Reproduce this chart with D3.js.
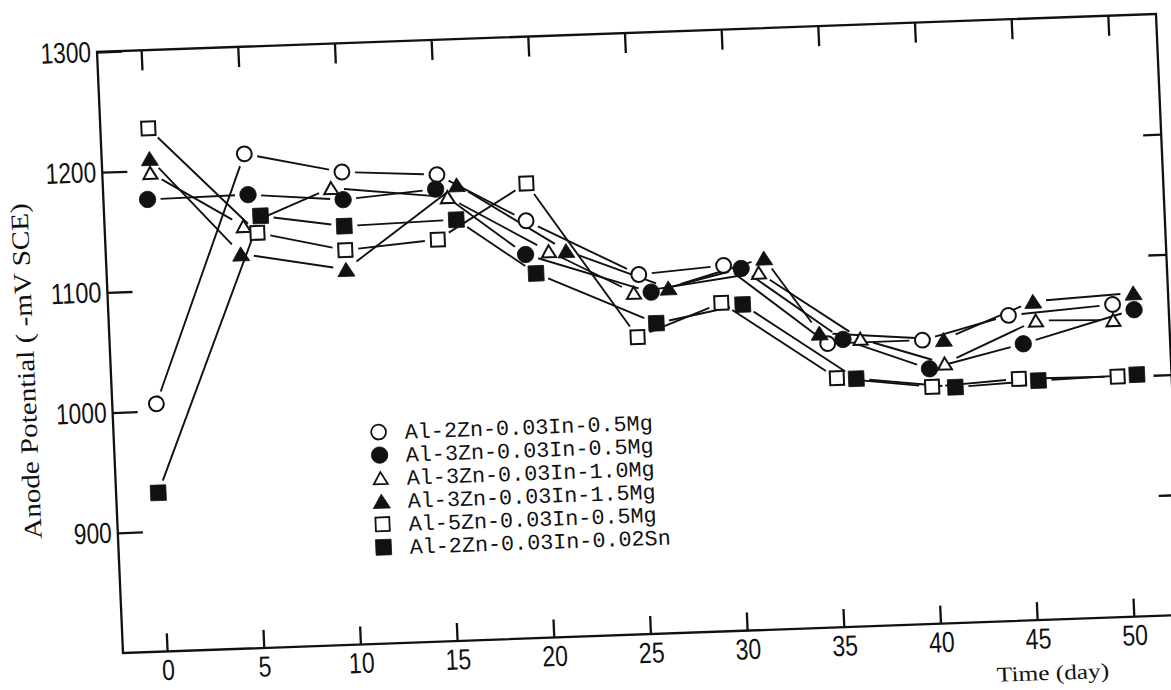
<!DOCTYPE html>
<html>
<head>
<meta charset="utf-8">
<script src="https://cdn.jsdelivr.net/npm/d3@7"></script>
<style>
  html, body { margin: 0; padding: 0; background: #ffffff; }
  svg { display: block; }
</style>
</head>
<body>
<svg id="chart" width="1171" height="690"></svg>
<script>
// Anode potential (-mV vs SCE) of Al sacrificial anode alloys over immersion time.
const seriesNames = [
  "Al-2Zn-0.03In-0.5Mg",
  "Al-3Zn-0.03In-0.5Mg",
  "Al-3Zn-0.03In-1.0Mg",
  "Al-3Zn-0.03In-1.5Mg",
  "Al-5Zn-0.03In-0.5Mg",
  "Al-2Zn-0.03In-0.02Sn"
];

// Time of each reading (day) and measured potential (-mV SCE) per alloy
const days2Zn05Mg = [0.0, 5.1, 10.1, 15.0, 19.5, 25.2, 29.6, 34.8, 39.7, 44.2, 49.6];
const pot2Zn05Mg  = [1006, 1211, 1193, 1188, 1147, 1099, 1104, 1036, 1036, 1054, 1060];

const days3Zn05Mg = [0.0, 5.2, 10.1, 14.9, 19.4, 25.8, 30.5, 35.6, 40.0, 44.9, 50.7];
const pot3Zn05Mg  = [1176, 1177, 1170, 1176, 1119, 1084, 1101, 1039, 1012, 1030, 1055];

const days3Zn10Mg = [0.2, 4.9, 9.5, 15.5, 20.6, 24.9, 31.4, 36.5, 40.8, 45.6, 49.6];
const pot3Zn10Mg  = [1198, 1151, 1180, 1169, 1121, 1084, 1097, 1039, 1016, 1049, 1047];

const days3Zn15Mg = [0.2, 4.7, 10.1, 16.0, 21.5, 26.7, 31.7, 34.4, 40.8, 45.5, 50.7];
const pot3Zn15Mg  = [1210, 1128, 1112, 1179, 1121, 1087, 1109, 1045, 1036, 1065, 1069];

const days5Zn05Mg = [0.2, 5.6, 10.1, 14.9, 19.6, 25.0, 29.4, 35.2, 40.1, 44.6, 49.7];
const pot5Zn05Mg  = [1235, 1145, 1128, 1134, 1178, 1047, 1073, 1007, 997, 1001, 1000];

const days2Zn002Sn = [-0.1, 5.8, 10.1, 15.9, 19.9, 26.0, 30.5, 36.2, 41.3, 45.6, 50.7];
const pot2Zn002Sn  = [932, 1159, 1148, 1150, 1103, 1058, 1071, 1006, 996, 999, 1001];

const xTickValues = [0, 5, 10, 15, 20, 25, 30, 35, 40, 45, 50];
const yTickValues = [900, 1000, 1100, 1200, 1300];
const xDomain = [-2.28, 52.49];
const yDomain = [800, 1300];

const xTitle = "Time (day)";
const yTitle = "Anode Potential ( -mV SCE)";

// ---------------------------------------------------------------------------
const ink = "#111";
const plotW = 1056, plotH = 600;

const x = d3.scaleLinear().domain(xDomain).range([0, plotW]);
const y = d3.scaleLinear().domain(yDomain).range([plotH, 0]);
const plainNum = d3.format("d");

const series = [
  { name: seriesNames[0], days: days2Zn05Mg,  pot: pot2Zn05Mg,  shape: "circle",   filled: false },
  { name: seriesNames[1], days: days3Zn05Mg,  pot: pot3Zn05Mg,  shape: "circle",   filled: true  },
  { name: seriesNames[2], days: days3Zn10Mg,  pot: pot3Zn10Mg,  shape: "triangle", filled: false },
  { name: seriesNames[3], days: days3Zn15Mg,  pot: pot3Zn15Mg,  shape: "triangle", filled: true  },
  { name: seriesNames[4], days: days5Zn05Mg,  pot: pot5Zn05Mg,  shape: "square",   filled: false },
  { name: seriesNames[5], days: days2Zn002Sn, pot: pot2Zn002Sn, shape: "square",   filled: true  }
];

function markerPath(shape, filled) {
  if (shape === "circle") {
    const r = filled ? 8.2 : 7.4;
    return d3.symbol(d3.symbolCircle, Math.PI * r * r)();
  }
  if (shape === "square") {
    const s = filled ? 15.5 : 13.8;
    return d3.symbol(d3.symbolSquare, s * s)();
  }
  const w = filled ? 17 : 14, h = filled ? 14 : 12;
  return `M0,${-h / 2}L${w / 2},${h / 2}L${-w / 2},${h / 2}Z`;
}

const svg = d3.select("#chart");

// The whole figure sits on a slightly tilted page
const fig = svg.append("g")
  .attr("transform", "matrix(1.0028,-0.036,0.0433,1.0017,97.02,51.98)");

// Frame
fig.append("rect")
  .attr("x", 0).attr("y", 0)
  .attr("width", plotW).attr("height", plotH)
  .attr("fill", "none")
  .attr("stroke", ink)
  .attr("stroke-width", 2.3);

function styleAxis(sel) {
  sel.select(".domain").remove();
  sel.selectAll(".tick line").attr("stroke", ink).attr("stroke-width", 2.3);
}

// Thin condensed digits: regular sans squeezed to a fixed advance
const numFont = "'Liberation Sans', Arimo, sans-serif";

// Bottom axis (ticks point inward)
const bottomAxis = fig.append("g")
  .attr("transform", `translate(0,${plotH})`)
  .call(d3.axisBottom(x).tickValues(xTickValues).tickFormat(plainNum).tickSize(-18).tickPadding(8))
  .call(styleAxis);
bottomAxis.selectAll("text")
  .attr("fill", ink)
  .style("font-family", numFont)
  .style("font-size", "29px")
  .attr("textLength", d => plainNum(d).length * 12.8)
  .attr("lengthAdjust", "spacingAndGlyphs");

// Top axis
fig.append("g")
  .call(d3.axisTop(x).tickValues(xTickValues).tickSize(-20).tickFormat(""))
  .call(styleAxis);

// Left axis
const leftAxis = fig.append("g")
  .call(d3.axisLeft(y).tickValues(yTickValues).tickFormat(plainNum).tickSize(-25).tickPadding(6))
  .call(styleAxis);
leftAxis.selectAll("text")
  .attr("fill", ink)
  .style("font-family", numFont)
  .style("font-size", "29px")
  .attr("textLength", d => plainNum(d).length * 12.6)
  .attr("lengthAdjust", "spacingAndGlyphs");

// Right axis
fig.append("g")
  .attr("transform", `translate(${plotW},0)`)
  .call(d3.axisRight(y).tickValues(yTickValues.filter(v => v < 1300)).tickSize(-18).tickFormat(""))
  .call(styleAxis);

// Axis titles
fig.append("text")
  .attr("transform", `translate(-76,${y(1037)}) rotate(-90)`)
  .attr("text-anchor", "middle")
  .attr("fill", ink)
  .style("font-family", "'Liberation Serif', 'DejaVu Serif', serif")
  .style("font-size", "25px")
  .attr("textLength", 335)
  .attr("lengthAdjust", "spacingAndGlyphs")
  .text(yTitle);

fig.append("text")
  .attr("x", x(45.7))
  .attr("y", plotH + 60)
  .attr("text-anchor", "middle")
  .attr("fill", ink)
  .style("font-family", "'Liberation Serif', 'DejaVu Serif', serif")
  .style("font-size", "21px")
  .attr("textLength", 112)
  .attr("lengthAdjust", "spacingAndGlyphs")
  .text(xTitle);

// Connecting lines, stopped short of each marker
const gap = 13;
const lineLayer = fig.append("g");
series.forEach(s => {
  const pts = s.days.map((d, i) => [x(d), y(s.pot[i])]);
  const segs = [];
  for (let i = 0; i < pts.length - 1; i++) {
    const [x0, y0] = pts[i], [x1, y1] = pts[i + 1];
    const L = Math.hypot(x1 - x0, y1 - y0);
    if (L <= 2 * gap + 2) continue;
    const ux = (x1 - x0) / L, uy = (y1 - y0) / L;
    segs.push([x0 + ux * gap, y0 + uy * gap, x1 - ux * gap, y1 - uy * gap]);
  }
  lineLayer.selectAll(null)
    .data(segs)
    .join("line")
    .attr("x1", d => d[0]).attr("y1", d => d[1])
    .attr("x2", d => d[2]).attr("y2", d => d[3])
    .attr("stroke", ink)
    .attr("stroke-width", 1.9);
});

// Markers
const markerLayer = fig.append("g");
series.forEach(s => {
  markerLayer.selectAll(null)
    .data(s.days.map((d, i) => ({ day: d, pot: s.pot[i] })))
    .join("path")
    .attr("transform", d => `translate(${x(d.day)},${y(d.pot)})`)
    .attr("d", markerPath(s.shape, s.filled))
    .attr("fill", s.filled ? ink : "#fff")
    .attr("stroke", ink)
    .attr("stroke-width", s.filled ? 0.8 : 2);
});

// Legend
const legend = fig.append("g").attr("transform", `translate(264,${y(975.9)})`);
const rowGap = 23;
series.forEach((s, i) => {
  const row = legend.append("g").attr("transform", `translate(0,${i * rowGap})`);
  row.append("path")
    .attr("d", markerPath(s.shape, s.filled))
    .attr("fill", s.filled ? ink : "#fff")
    .attr("stroke", ink)
    .attr("stroke-width", s.filled ? 0.8 : 1.8);
  row.append("text")
    .attr("x", 26)
    .attr("y", 7.5)
    .attr("fill", ink)
    .style("font-family", "'Liberation Mono', 'DejaVu Sans Mono', monospace")
    .style("font-size", "21.7px")
    .text(s.name);
});
</script>
</body>
</html>
